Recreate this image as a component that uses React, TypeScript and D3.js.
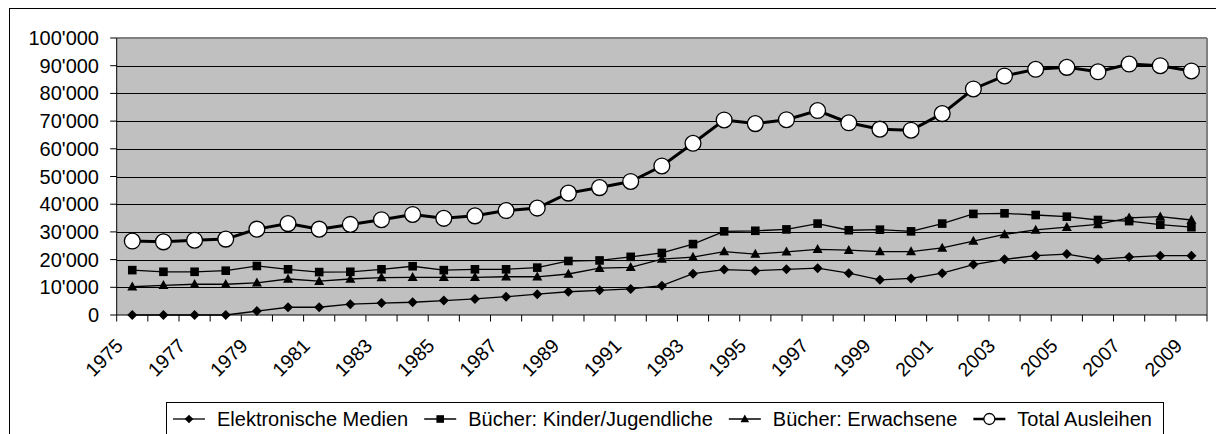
import React from "react";
import * as d3 from "d3";

const years = ["1975","1976","1977","1978","1979","1980","1981","1982","1983","1984","1985","1986","1987","1988","1989","1990","1991","1992","1993","1994","1995","1996","1997","1998","1999","2000","2001","2002","2003","2004","2005","2006","2007","2008","2009"];
const elektronisch = [0,0,0,0,1400,2800,2800,3900,4300,4600,5200,5800,6600,7500,8400,8900,9400,10600,14900,16400,16000,16500,16900,15100,12700,13200,15100,18200,20100,21400,22000,20100,20900,21400,21400];
const kinder = [16200,15600,15600,16000,17700,16500,15500,15600,16500,17600,16200,16500,16500,17100,19500,19700,21000,22400,25600,30200,30400,30900,33000,30600,30800,30200,33000,36500,36700,36100,35500,34300,33900,32600,31700];
const erwachsene = [10200,10700,11100,11100,11600,13000,12200,13000,13500,13600,13600,13600,13800,13800,14800,16900,17200,20200,20900,22900,22000,22800,23700,23400,22900,22900,24200,26700,29100,30700,31700,32700,35100,35500,34300];
const total = [26700,26400,27000,27400,31000,33000,31000,32700,34400,36300,34900,35800,37700,38600,44000,46000,48200,53800,62000,70400,69100,70500,73800,69400,67100,66700,72700,81600,86300,88700,89400,87800,90600,90000,88100];
const yTicks = [0,10000,20000,30000,40000,50000,60000,70000,80000,90000,100000];
const seriesNames = ["Elektronische Medien","Bücher: Kinder/Jugendliche","Bücher: Erwachsene","Total Ausleihen"];

const FONT = "'Liberation Sans', Arial, sans-serif";

function measure(text: string, size: number): number {
  const c = document.createElement("canvas").getContext("2d");
  if (!c) return text.length * size * 0.5;
  c.font = `${size}px 'Liberation Sans'`;
  return c.measureText(text).width;
}

function Marker({ kind, x, y, s }: { kind: string; x: number; y: number; s: number }) {
  if (kind === "diamond") {
    return <path d={`M${x},${y - s}L${x + s},${y}L${x},${y + s}L${x - s},${y}Z`} fill="#000" />;
  }
  if (kind === "square") {
    return <rect x={x - s} y={y - s} width={2 * s} height={2 * s} fill="#000" />;
  }
  if (kind === "triangle") {
    return <path d={`M${x},${y - s * 1.05}L${x + s},${y + s * 0.75}L${x - s},${y + s * 0.75}Z`} fill="#000" />;
  }
  return <circle cx={x} cy={y} r={s} fill="#fff" stroke="#000" strokeWidth={1.3} />;
}

export default function App() {
  const W = 1216, H = 434;
  const left = 116.7, right = 1207, top = 38, bottom = 315;
  const xBand = d3.scaleBand<string>().domain(years).range([left, right]).padding(0);
  const xc = (i: number) => (xBand(years[i]) as number) + xBand.bandwidth() / 2;
  const y = d3.scaleLinear().domain([0, 100000]).range([bottom, top]);
  const fmt = d3.formatLocale({ thousands: "'", grouping: [3], decimal: ".", currency: ["", ""] }).format(",");
  const line = d3.line<number>().x((_, i) => xc(i)).y((v) => y(v));

  const series = [
    { data: elektronisch, kind: "diamond", s: 5, w: 1.3 },
    { data: kinder, kind: "square", s: 4.3, w: 1.3 },
    { data: erwachsene, kind: "triangle", s: 5, w: 1.3 },
    { data: total, kind: "circle", s: 7.9, w: 3 },
  ];

  const legFont = 20;
  const legLeft = 166, legTop = 402, legY = 419;
  let cx = legLeft + 7;
  const legItems = seriesNames.map((name, i) => {
    const item = { name, x: cx, tx: cx + 44, kind: series[i].kind, w: series[i].w };
    cx += 44 + measure(name, legFont) + 16;
    return item;
  });
  const legRight = cx - 6;

  const boundaries = [...years.map((yr) => xBand(yr) as number), right];

  return (
    <svg width={W} height={H} style={{ position: "absolute", left: 0, top: 0, background: "#fff" }} fontFamily={FONT}>
      <rect x={9.5} y={8.5} width={1230} height={460} fill="#fff" stroke="#000" strokeWidth={1} />
      <rect x={left} y={top} width={right - left} height={bottom - top} fill="#C0C0C0" />
      {yTicks.slice(1).map((t) => (
        <line key={t} x1={left} x2={right} y1={Math.round(y(t)) + 0.5} y2={Math.round(y(t)) + 0.5} stroke="#000" strokeWidth={1} />
      ))}
      <line x1={left} x2={right} y1={top} y2={top} stroke="#808080" strokeWidth={2} />
      <line x1={right} x2={right} y1={top} y2={bottom} stroke="#808080" strokeWidth={2} />
      <line x1={left} x2={left} y1={top} y2={bottom} stroke="#000" strokeWidth={1} />
      <line x1={left} x2={right} y1={bottom} y2={bottom} stroke="#000" strokeWidth={1} />
      {yTicks.map((t) => (
        <g key={t}>
          <line x1={left - 6.5} x2={left} y1={y(t)} y2={y(t)} stroke="#000" strokeWidth={1} />
          <text x={99} y={y(t)} dy="0.35em" textAnchor="end" fontSize={20} fill="#000">{fmt(t)}</text>
        </g>
      ))}
      {boundaries.map((b, i) => (
        <line key={i} x1={b} x2={b} y1={bottom} y2={bottom + 6.5} stroke="#000" strokeWidth={1} />
      ))}
      {years.map((yr, i) =>
        i % 2 === 0 ? (
          <text key={yr} transform={`translate(${xc(i) - 8},${347}) rotate(-45)`} textAnchor="end" fontSize={19.5} fill="#000">{yr}</text>
        ) : null
      )}
      {series.map((s, si) => (
        <g key={si}>
          <path d={line(s.data) as string} fill="none" stroke="#000" strokeWidth={s.w} />
          {s.data.map((v, i) => (
            <Marker key={i} kind={s.kind} x={xc(i)} y={y(v)} s={s.s} />
          ))}
        </g>
      ))}
      <rect x={legLeft + 0.5} y={legTop + 0.5} width={legRight - legLeft} height={60} fill="#fff" stroke="#000" strokeWidth={1} />
      {legItems.map((it, i) => (
        <g key={i}>
          <line x1={it.x} x2={it.x + 32} y1={legY} y2={legY} stroke="#000" strokeWidth={it.w === 3 ? 2.5 : 1.3} />
          <Marker kind={it.kind} x={it.x + 16} y={legY} s={it.kind === "circle" ? 5.5 : it.kind === "square" ? 3.8 : 4.3} />
          <text x={it.tx} y={legY} dy="0.35em" fontSize={legFont} fill="#000">{it.name}</text>
        </g>
      ))}
    </svg>
  );
}
